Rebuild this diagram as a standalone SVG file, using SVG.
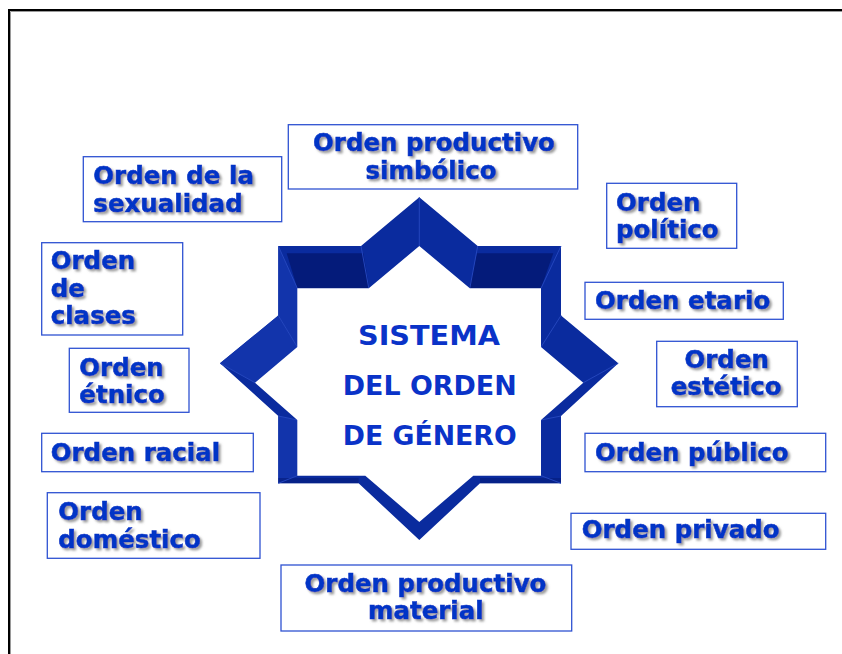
<svg xmlns="http://www.w3.org/2000/svg" width="842" height="654" viewBox="0 0 842 654">
  <defs>
    <filter id="sh" x="-10%" y="-20%" width="130%" height="150%">
      <feDropShadow dx="2.2" dy="2.2" stdDeviation="0.9" flood-color="#8a8a8a" flood-opacity="0.85"/>
    </filter>
  </defs>
  <style>
    .box { fill: #ffffff; stroke: #2f52d2; stroke-width: 1.3; }
    .lbl { font-family: "DejaVu Sans", "Liberation Sans", sans-serif; font-weight: bold; font-size: 24.5px; fill: #0634c6; stroke: #0634c6; stroke-width: 0.6; filter: url(#sh); }
    .mid { text-anchor: middle; }
    .ctr { font-family: "DejaVu Sans", "Liberation Sans", sans-serif; font-weight: bold; font-size: 27px; fill: #0a33c8; }
    .face { fill: #0a2b9e; }
    .dark { fill: #041b7a; }
    .lite { fill: #1234ab; }
    .bev { stroke: #2446bd; stroke-width: 1; fill: none; }
  </style>
  <rect x="0" y="0" width="842" height="654" fill="#ffffff"/>
  <!-- frame -->
  <path d="M10.5,654 V11.5 H842" fill="none" stroke="#9a9a9a" stroke-width="1"/>
  <path d="M9,654 V10 H842" fill="none" stroke="#000000" stroke-width="2"/>

  <!-- central star -->
  <g id="star">
    <polygon class="face" points="419.3,197.3 477.7,246 561,246 561,315.5 618.3,363.3 561,416 561,483.3 480,483.3 419.3,540 358.6,483.3 278.3,483.3 278.3,416 220,363.3 278.3,315.5 278.3,246 361,246"/>
    <polygon class="lite" points="278.3,246 297.3,288.3 297.3,347 278.3,315.5"/>
    <polygon class="lite" points="278.3,416 297.3,420 297.3,475.7 278.3,483.3"/>
    <polygon class="lite" points="220,363.3 255,382.7 297.3,347 278.3,315.5"/>
    <polygon class="dark" points="286.7,253.3 363.3,253.3 369.3,288.3 297.3,288.3"/>
    <polygon class="dark" points="476.7,253.3 553.3,253.3 541,288.3 469.3,288.3"/>
    <polygon class="dark" points="278.3,478 358.6,478 358.6,483.3 278.3,483.3" opacity="0.6"/>
    <polygon class="dark" points="480,478 561,478 561,483.3 480,483.3" opacity="0.6"/>
    <g class="bev">
      <line x1="278.3" y1="246" x2="297.3" y2="288.3"/>
      <line x1="561" y1="246" x2="541" y2="288.3"/>
      <line x1="361" y1="246" x2="368.8" y2="288.3"/>
      <line x1="477.7" y1="246" x2="469.8" y2="288.3"/>
      <line x1="278.3" y1="315.5" x2="297.3" y2="347"/>
      <line x1="561" y1="315.5" x2="541" y2="347"/>
      <line x1="220" y1="363.3" x2="255" y2="382.7"/>
      <line x1="618.3" y1="363.3" x2="583.3" y2="382.7"/>
      <line x1="278.3" y1="416" x2="297.3" y2="420"/>
      <line x1="561" y1="416" x2="541" y2="420"/>
      <line x1="278.3" y1="483.3" x2="297.3" y2="475.7"/>
      <line x1="561" y1="483.3" x2="541" y2="475.7"/>
      <line x1="419.3" y1="197.3" x2="419.3" y2="246"/>
    </g>
    <polygon fill="#ffffff" points="419.3,246 469.8,288.3 541,288.3 541,347 583.3,382.7 541,420 541,475.7 473.3,475.7 419.3,522 365.3,475.7 297.3,475.7 297.3,420 255,382.7 297.3,347 297.3,288.3 368.8,288.3"/>
    <text class="ctr mid" x="429" y="345" textLength="142" lengthAdjust="spacingAndGlyphs">SISTEMA</text>
    <text class="ctr mid" x="429.7" y="395" textLength="174" lengthAdjust="spacingAndGlyphs">DEL ORDEN</text>
    <text class="ctr mid" x="429.7" y="445" textLength="174" lengthAdjust="spacingAndGlyphs">DE GÉNERO</text>
  </g>

  <g id="connectors"/>

  <g id="n-simbolico">
    <rect class="box" x="288.3" y="124.7" width="289.4" height="64.3"/>
    <text class="lbl mid"><tspan x="434" y="151">Orden productivo</tspan><tspan x="431" y="178.5">simbólico</tspan></text>
  </g>
  <g id="n-sexualidad">
    <rect class="box" x="83.3" y="156.7" width="198.4" height="65"/>
    <text class="lbl"><tspan x="93.3" y="184.3">Orden de la</tspan><tspan x="93.3" y="211.7">sexualidad</tspan></text>
  </g>
  <g id="n-clases">
    <rect class="box" x="41.7" y="242.7" width="141" height="92.3"/>
    <text class="lbl"><tspan x="50.7" y="269">Orden</tspan><tspan x="50.7" y="296.7">de</tspan><tspan x="50.7" y="324.3">clases</tspan></text>
  </g>
  <g id="n-etnico">
    <rect class="box" x="69.3" y="348.3" width="119.7" height="64"/>
    <text class="lbl"><tspan x="79.3" y="375.7">Orden</tspan><tspan x="79.3" y="403.3">étnico</tspan></text>
  </g>
  <g id="n-racial">
    <rect class="box" x="41.7" y="433.3" width="211.6" height="38.4"/>
    <text class="lbl" x="50.7" y="460.7">Orden racial</text>
  </g>
  <g id="n-domestico">
    <rect class="box" x="47.3" y="492.7" width="212.7" height="65.6"/>
    <text class="lbl"><tspan x="58.3" y="520">Orden</tspan><tspan x="58.3" y="547.7">doméstico</tspan></text>
  </g>
  <g id="n-material">
    <rect class="box" x="281" y="565" width="290.7" height="66"/>
    <text class="lbl mid"><tspan x="425.5" y="591.7">Orden productivo</tspan><tspan x="425.8" y="619.3">material</tspan></text>
  </g>
  <g id="n-politico">
    <rect class="box" x="606.7" y="183.3" width="130" height="65"/>
    <text class="lbl"><tspan x="616" y="210.7">Orden</tspan><tspan x="616" y="238.3">político</tspan></text>
  </g>
  <g id="n-etario">
    <rect class="box" x="585" y="282.3" width="198.3" height="37"/>
    <text class="lbl" x="595" y="309.3">Orden etario</text>
  </g>
  <g id="n-estetico">
    <rect class="box" x="656.7" y="341.3" width="140.6" height="65.4"/>
    <text class="lbl mid"><tspan x="726.7" y="367.7">Orden</tspan><tspan x="726.2" y="395">estético</tspan></text>
  </g>
  <g id="n-publico">
    <rect class="box" x="585" y="433.3" width="240.7" height="38.4"/>
    <text class="lbl" x="595" y="460.7">Orden público</text>
  </g>
  <g id="n-privado">
    <rect class="box" x="571" y="513.3" width="254.7" height="36"/>
    <text class="lbl" x="581.7" y="538.3">Orden privado</text>
  </g>
</svg>
